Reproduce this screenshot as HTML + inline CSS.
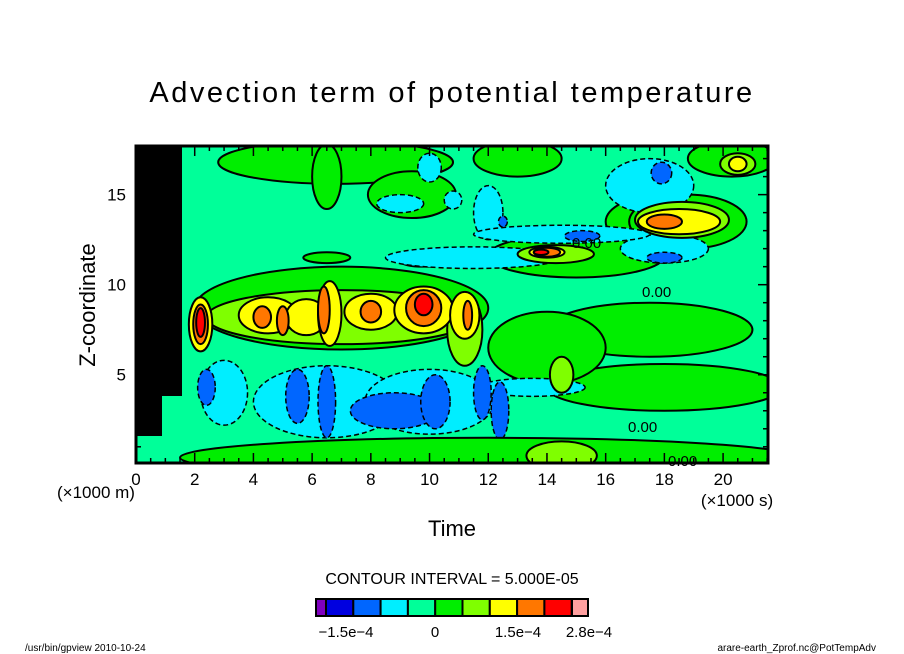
<!DOCTYPE html>
<html><head><meta charset="utf-8"><style>
html,body{margin:0;padding:0;background:#fff;}
svg{display:block;font-family:"Liberation Sans",sans-serif;}
</style></head><body>
<svg id="chart" width="904" height="654" viewBox="0 0 904 654">
<defs><clipPath id="pc"><rect x="136" y="146" width="632" height="317"/></clipPath></defs>
<text x="452" y="102" text-anchor="middle" font-size="29" letter-spacing="2.5">Advection term of potential temperature</text>
<rect x="136" y="146" width="632" height="317" fill="#00ff99"/>
<g id="blobs" clip-path="url(#pc)"></g>
<rect x="136" y="146" width="46" height="250" fill="#000"/>
<rect x="136" y="396" width="26" height="40" fill="#000"/>
<g id="labels0" font-size="15">
<text x="628" y="432">0.00</text>
<text x="572" y="248">0.00</text>
<text x="642" y="297">0.00</text>
<text x="668" y="466">0.00</text>
</g>
<rect x="136" y="146" width="632" height="317" fill="none" stroke="#000" stroke-width="3"/>
<g id="axes"></g>
<text x="95" y="305" transform="rotate(-90 95 305)" text-anchor="middle" font-size="22">Z-coordinate</text>
<text x="96" y="498" text-anchor="middle" font-size="17">(×1000 m)</text>
<text x="452" y="536" text-anchor="middle" font-size="22">Time</text>
<text x="737" y="506" text-anchor="middle" font-size="17">(×1000 s)</text>
<text x="452" y="584" text-anchor="middle" font-size="16">CONTOUR INTERVAL = 5.000E-05</text>
<g id="cbar"></g>
<text x="346" y="637" text-anchor="middle" font-size="15">−1.5e−4</text>
<text x="435" y="637" text-anchor="middle" font-size="15">0</text>
<text x="518" y="637" text-anchor="middle" font-size="15">1.5e−4</text>
<text x="589" y="637" text-anchor="middle" font-size="15">2.8e−4</text>
<text x="25" y="651" font-size="10">/usr/bin/gpview  2010-10-24</text>
<text x="876" y="651" text-anchor="end" font-size="10">arare-earth_Zprof.nc@PotTempAdv</text>
</svg>
<script>
const palette=["#7f00bf","#0000e0","#0066ff","#00eeff","#00ff99","#00ee00","#7fff00","#ffff00","#ff7700","#ff0000","#ffa0a0"];
const cbarLevels=[0,1,2,3,4,5,6,7,8,9,10];
// blobs: time (x1000 s), z (x1000 m), radii, level index
const blobT=[6.8,13,20.3,6.5,9.4,6.5,9.8,17.5,18,7,7,14,18,15,18.8,11.5,10,10.8,12,17.5,18,14.5,9,3,6.5,10,13.5,2.4,5.5,6.5,8.8,10.2,11.8,12.4,15.2,17.9,18,12.5,14.5,11.2,18.6,18.5,18,20.5,20.5,14.3,14,14,13.8,2.2,4.5,5.8,6.6,8,9.8,11.2,2.2,4.3,5.0,6.4,8,9.8,11.3,2.2,9.8,12,14.5];
const blobZ=[16.8,17,17,16,15,11.5,11.3,7.5,4.3,8.7,8.2,6.5,13.5,11.6,13.5,11.5,16.5,14.7,14,15.5,12,12.8,14.5,4,3.5,3.5,4.3,4.3,3.8,3.5,3,3.5,4,3,12.7,16.2,11.5,13.5,5,7.5,13.6,13.5,13.5,16.7,16.7,11.7,11.8,11.8,11.8,7.8,8.3,8.2,8.4,8.5,8.6,8.3,7.8,8.2,8,8.6,8.5,8.7,8.3,7.9,8.9,0.4,0.5];
const blobRT=[4,1.5,1.5,0.5,1.5,0.8,0.8,3.5,4,5,4.6,2,2,3,2,3,0.4,0.3,0.5,1.5,1.5,3,0.8,0.8,2.5,2.2,1.8,0.3,0.4,0.3,1.5,0.5,0.3,0.3,0.6,0.35,0.6,0.15,0.4,0.6,1.6,1.4,0.6,0.6,0.3,1.3,0.6,0.45,0.25,0.4,1.0,0.7,0.4,0.9,1.0,0.5,0.25,0.3,0.2,0.2,0.35,0.6,0.15,0.15,0.3,10.5,1.2];
const blobRZ=[1.2,1,1,1.8,1.3,0.3,0.3,1.5,1.3,2.3,1.5,2,1.5,1.2,1.5,0.6,0.8,0.5,1.5,1.5,0.8,0.5,0.5,1.8,2,1.8,0.5,1,1.5,2,1,1.5,1.5,1.6,0.3,0.6,0.3,0.3,1,2,1,0.7,0.4,0.6,0.4,0.5,0.3,0.25,0.15,1.5,1,1,1.8,1,1.3,1.3,1.1,0.6,0.8,1.3,0.6,1,0.8,0.8,0.6,1.1,0.8];
const blobLevel=[5,5,5,5,5,5,5,5,5,5,6,5,5,5,5,3,3,3,3,3,3,3,3,3,3,3,3,2,2,2,2,2,2,2,2,2,2,2,6,6,6,7,8,6,7,6,7,8,9,7,7,7,7,7,7,7,8,8,8,8,8,8,8,9,9,5,6];
const xTicks=[0,2,4,6,8,10,12,14,16,18,20];
const yTicks=[5,10,15];
const tMax=21.53, zMin=0.1, zMax=17.7;
const X0=136,X1=768,Y0=463,Y1=146;
const xs=t=>X0+(t/tMax)*(X1-X0);
const ys=z=>Y0-(z-zMin)/(zMax-zMin)*(Y0-Y1);
const NS="http://www.w3.org/2000/svg";
const g=document.getElementById('blobs');
for(let i=0;i<blobT.length;i++){
  const e=document.createElementNS(NS,'ellipse');
  
  
  e.setAttribute('cx',xs(blobT[i]));e.setAttribute('cy',ys(blobZ[i]));
  e.setAttribute('rx',Math.abs(xs(blobRT[i])-xs(0)));
  e.setAttribute('ry',Math.abs(ys(0)-ys(blobRZ[i])));
  e.setAttribute('fill',palette[blobLevel[i]]);
  e.setAttribute('stroke','#000');
  e.setAttribute('stroke-width',blobLevel[i]<4?1.5:2);
  if(blobLevel[i]<4)e.setAttribute('stroke-dasharray','5 3');
  g.appendChild(e);
}
const ax=document.getElementById('axes');
function ln(x1,y1,x2,y2,w){const l=document.createElementNS(NS,'line');
  l.setAttribute('x1',x1);l.setAttribute('y1',y1);l.setAttribute('x2',x2);l.setAttribute('y2',y2);
  l.setAttribute('stroke','#000');l.setAttribute('stroke-width',w);ax.appendChild(l);return l;}
for(let t=0;t<=tMax;t+=0.5){const big=t%2===0;const x=xs(t);
  const a=ln(x,Y0,x,Y0-(big?10:5),1.5);
  const b=ln(x,Y1,x,Y1+(big?10:5),1.5);}
for(let z=1;z<=17;z++){const big=z%5===0;const y=ys(z);
  const a=ln(X0,y,X0+(big?10:5),y,1.5);
  const b=ln(X1,y,X1-(big?10:5),y,1.5);}
xTicks.forEach(t=>{const s=document.createElementNS(NS,'text');
  
  
  s.setAttribute('x',xs(t));s.setAttribute('y',485);s.setAttribute('text-anchor','middle');s.setAttribute('font-size','17');
  s.textContent=t;ax.appendChild(s);});
yTicks.forEach(z=>{const s=document.createElementNS(NS,'text');
  
  
  s.setAttribute('x',126);s.setAttribute('y',ys(z)+6);s.setAttribute('text-anchor','end');s.setAttribute('font-size','17');
  s.textContent=z;ax.appendChild(s);});
const cb=document.getElementById('cbar');
cbarLevels.forEach((lv,i)=>{const r=document.createElementNS(NS,'rect');
  
  
  const x=i===0?316:(i===10?572:326+(i-1)*27.3);const w=i===0?10:(i===10?16:27.3);
  r.setAttribute('x',x);r.setAttribute('y',599);r.setAttribute('width',w);r.setAttribute('height',17);
  r.setAttribute('fill',palette[lv]);r.setAttribute('stroke','#000');r.setAttribute('stroke-width',2);cb.appendChild(r);});
</script>
</body></html>
